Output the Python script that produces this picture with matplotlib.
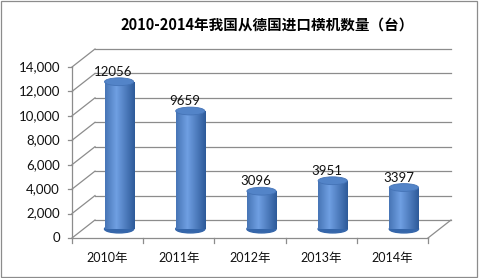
import matplotlib.pyplot as plt
import matplotlib.transforms as mtransforms
from matplotlib.patches import Ellipse, Rectangle
import numpy as np

plt.rcParams['font.family'] = ['Lato', 'Noto Sans CJK SC', 'DejaVu Sans']

years = ["2010年", "2011年", "2012年", "2013年", "2014年"]
counts = [12056, 9659, 3096, 3951, 3397]
yticks = [0, 2000, 4000, 6000, 8000, 10000, 12000, 14000]
title = "2010-2014年我国从德国进口横机数量（台）"

W, H = 481, 278
fig = plt.figure(figsize=(W / 100, H / 100), dpi=100)
ax = fig.add_axes([72 / W, (H - 238) / H, 356 / W, 171 / H])
ax.set_xlim(-0.5, 4.5)
ax.set_ylim(0, 14000)
ax.axis("off")

grid_c = "#8c8c8c"
dx, dy = 23, 18  # depth of the fake 3D box, pixels
back = mtransforms.offset_copy(ax.transData, fig, x=dx, y=dy, units="dots")
mid = mtransforms.offset_copy(ax.transData, fig, x=dx / 2, y=dy / 2, units="dots")

# back wall gridlines + left wall diagonals
for v in yticks:
    ax.plot([-0.5, 4.5], [v, v], color=grid_c, lw=0.9, transform=back, clip_on=False)
    x0, y0 = ax.transData.transform((-0.5, v))
    ax.plot([x0, x0 + dx], [y0, y0 + dy], color=grid_c, lw=0.9,
            transform=None, clip_on=False)
    ax.plot([x0 - 4, x0], [y0, y0], color=grid_c, lw=0.9,
            transform=None, clip_on=False)

# floor
ax.plot([-0.5, 4.5], [0, 0], color=grid_c, lw=0.9, clip_on=False)
x1, y1 = ax.transData.transform((4.5, 0))
ax.plot([x1, x1 + dx], [y1, y1 + dy], color=grid_c, lw=0.9,
        transform=None, clip_on=False)
ax.plot([-0.5, -0.5], [0, 14000], color=grid_c, lw=0.9, clip_on=False)
for b in np.arange(-0.5, 5, 1.0):
    xb, yb = ax.transData.transform((b, 0))
    ax.plot([xb, xb], [yb, yb - 5], color=grid_c, lw=0.9,
            transform=None, clip_on=False)

# cylinders
bw = 0.41
eh = 640
grad = np.linspace(0, 1, 64)
shade = 1 - np.abs(grad - 0.38) * 1.4
cmap = plt.matplotlib.colors.LinearSegmentedColormap.from_list(
    "cyl", ["#24508f", "#6f9fe2"])
bars = ax.bar(range(len(counts)), counts, width=bw, color="#3a6db3", lw=0)
for i, (p, v) in enumerate(zip(bars.patches, counts)):
    p.set_transform(mid)
    p.set_clip_on(False)
    img = ax.imshow(shade[None, :], cmap=cmap, aspect="auto",
                    extent=(i - bw / 2, i + bw / 2, 0, v), transform=mid,
                    vmin=0, vmax=1, zorder=2)
    img.set_clip_path(p)
    bottom = Ellipse((i, 0), bw, eh, transform=mid, color="#3566aa", zorder=1.9,
                     clip_on=False)
    ax.add_patch(bottom)
    top = Ellipse((i, v), bw, eh, transform=mid, facecolor="#5384c8",
                  edgecolor="#4473b6", lw=0.6, zorder=3, clip_on=False)
    ax.add_patch(top)
    ax.annotate(str(v), (i, v), xytext=(6, 19), textcoords="offset pixels",
                ha="center", va="center", fontsize=9.5, color="#111111")

ax.set_xlim(-0.5, 4.5)
ax.set_ylim(0, 14000)

for v in yticks:
    ax.text(-0.5, v, f"{v:,}", transform=mtransforms.offset_copy(
        ax.transData, fig, x=-12, y=0, units="dots"),
        ha="right", va="center", fontsize=9.5, color="#111111")
for i, yr in enumerate(years):
    ax.text(i, 0, yr, transform=mtransforms.offset_copy(
        ax.transData, fig, x=0, y=-20, units="dots"),
        ha="center", va="center", fontsize=9, color="#111111")

fig.text(267 / W, 1 - 25 / H, title, ha="center", va="center",
         fontsize=10.5, fontweight="bold", family=["Noto Sans CJK SC"])

fig.patches.append(Rectangle((0.5 / W, 1 / H), 477 / W, 276 / H,
                             transform=fig.transFigure, fill=False,
                             edgecolor="#8c8c8c", lw=0.9))

fig.savefig("out.png", dpi=100)
